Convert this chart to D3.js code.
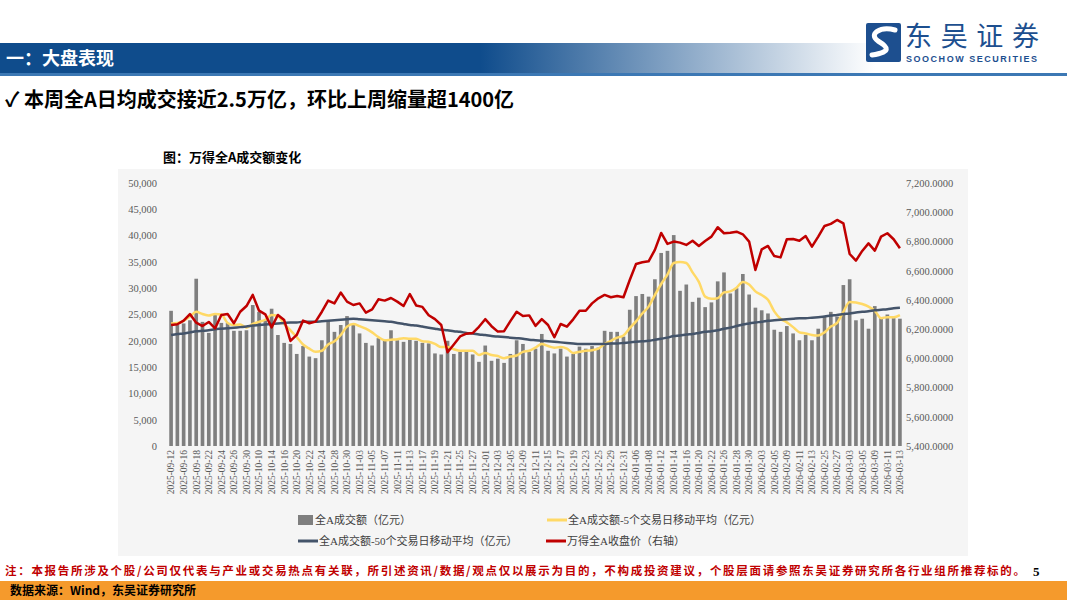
<!DOCTYPE html>
<html>
<head>
<meta charset="utf-8">
<script src="https://cdn.jsdelivr.net/npm/d3@7/dist/d3.min.js"></script>
<style>
    body { margin: 0; background: #fff; }
    svg { display: block; }
    .serif { font-family: "Liberation Serif", "Noto Sans CJK SC", serif; }
    .cjk { font-family: "Noto Sans CJK SC", sans-serif; }
</style>
</head>
<body>
<svg id="page" width="1067" height="600"></svg>
<script>
var dates = [
    "2025-09-12", "2025-09-15", "2025-09-16", "2025-09-17", "2025-09-18", "2025-09-19", "2025-09-22", "2025-09-23", "2025-09-24", "2025-09-25",
    "2025-09-26", "2025-09-29", "2025-09-30", "2025-10-09", "2025-10-10", "2025-10-13", "2025-10-14", "2025-10-15", "2025-10-16", "2025-10-17",
    "2025-10-20", "2025-10-21", "2025-10-22", "2025-10-23", "2025-10-24", "2025-10-27", "2025-10-28", "2025-10-29", "2025-10-30", "2025-10-31",
    "2025-11-03", "2025-11-04", "2025-11-05", "2025-11-06", "2025-11-07", "2025-11-10", "2025-11-11", "2025-11-12", "2025-11-13", "2025-11-14",
    "2025-11-17", "2025-11-18", "2025-11-19", "2025-11-20", "2025-11-21", "2025-11-24", "2025-11-25", "2025-11-26", "2025-11-27", "2025-11-28",
    "2025-12-01", "2025-12-02", "2025-12-03", "2025-12-04", "2025-12-05", "2025-12-08", "2025-12-09", "2025-12-10", "2025-12-11", "2025-12-12",
    "2025-12-15", "2025-12-16", "2025-12-17", "2025-12-18", "2025-12-19", "2025-12-22", "2025-12-23", "2025-12-24", "2025-12-25", "2025-12-26",
    "2025-12-29", "2025-12-30", "2025-12-31", "2026-01-05", "2026-01-06", "2026-01-07", "2026-01-08", "2026-01-09", "2026-01-12", "2026-01-13",
    "2026-01-14", "2026-01-15", "2026-01-16", "2026-01-19", "2026-01-20", "2026-01-21", "2026-01-22", "2026-01-23", "2026-01-26", "2026-01-27",
    "2026-01-28", "2026-01-29", "2026-01-30", "2026-02-02", "2026-02-03", "2026-02-04", "2026-02-05", "2026-02-06", "2026-02-09", "2026-02-10",
    "2026-02-11", "2026-02-12", "2026-02-13", "2026-02-24", "2026-02-25", "2026-02-26", "2026-02-27", "2026-03-02", "2026-03-03", "2026-03-04",
    "2026-03-05", "2026-03-06", "2026-03-09", "2026-03-10", "2026-03-11", "2026-03-12", "2026-03-13"
];

// 全A成交额（亿元）
var amount = [
    25700, 23000, 23300, 23900, 31800, 23600, 21500, 24900, 23400, 23400,
    21900, 21900, 22000, 26800, 25500, 23900, 26100, 21100, 19600, 19400,
    17500, 19000, 17000, 16700, 20100, 23800, 21700, 23000, 24700, 23000,
    21400, 19600, 19100, 20500, 20000, 22000, 20100, 19800, 20200, 20000,
    19600, 19500, 17600, 17400, 20000, 17500, 17900, 17900, 17400, 16000,
    19100, 16200, 16600, 15800, 17500, 20100, 19400, 17900, 18500, 21300,
    18100, 17600, 18500, 17000, 17500, 18900, 18500, 19000, 18700, 21900,
    21700, 21700, 20800, 25900, 28500, 28900, 28400, 31700, 36700, 37100,
    40100, 29500, 30700, 27400, 28200, 26400, 27300, 31300, 33000, 29000,
    30000, 32700, 28800, 26300, 25800, 25200, 22100, 21700, 22800, 21400,
    20100, 21100, 20100, 22300, 24600, 25500, 24600, 30600, 31700, 23900,
    24200, 22300, 26600, 24400, 25000, 24300, 24200
];

// 5个交易日移动平均（亿元）
var ma5 = [
    23300, 23400, 23800, 24600, 25500, 25100, 24800, 25100, 25000, 23400,
    23000, 23100, 22500, 23200, 23600, 24000, 24900, 24700, 23200, 22000,
    20700, 19300, 18500, 17900, 18100, 19300, 19900, 21100, 22700, 23200,
    22800, 22300, 21600, 20700, 20100, 20200, 20300, 20500, 20400, 20400,
    19900, 19800, 19400, 18800, 18800, 18400, 18100, 18100, 18100, 17300,
    17700, 17300, 17100, 16700, 17000, 17200, 17900, 18100, 18700, 19400,
    19000, 18700, 18800, 18500, 17700, 17900, 18100, 18200, 18500, 19400,
    20000, 20600, 21000, 22400, 23700, 25200, 26500, 28700, 30800, 32600,
    34800, 35000, 34800, 33000, 31200, 28400, 28000, 28100, 29200, 29400,
    30100, 31200, 30700, 29400, 28700, 27800, 25600, 24200, 23500, 22600,
    21600, 21400, 21100, 21000, 21600, 22700, 23400, 25500, 27400, 27300,
    27000, 26500, 25700, 24300, 24500, 24500, 24900
];

// 50个交易日移动平均（亿元）
var ma50 = [
    21100, 21300, 21400, 21600, 21800, 21900, 22000, 22200, 22300, 22400,
    22500, 22600, 22700, 22900, 23000, 23100, 23200, 23300, 23400, 23500,
    23500, 23600, 23600, 23600, 23700, 23800, 23900, 24000, 24100, 24200,
    24100, 24000, 23900, 23800, 23700, 23600, 23400, 23200, 23000, 22900,
    22700, 22500, 22300, 22100, 22000, 21800, 21700, 21500, 21400, 21200,
    21100, 20900, 20800, 20700, 20600, 20500, 20400, 20200, 20100, 20000,
    19900, 19800, 19700, 19600, 19500, 19400, 19400, 19400, 19400, 19400,
    19500, 19500, 19600, 19700, 19800, 19900, 20000, 20200, 20400, 20600,
    20900, 21000, 21200, 21300, 21500, 21700, 21800, 22000, 22300, 22500,
    22800, 23100, 23300, 23500, 23600, 23800, 23900, 24000, 24100, 24200,
    24300, 24300, 24400, 24500, 24600, 24800, 24900, 25100, 25200, 25400,
    25500, 25600, 25800, 25900, 26000, 26200, 26300
];

// 万得全A收盘价（右轴）
var closePrice = [
    6228, 6233, 6258, 6303, 6244, 6221, 6249, 6205, 6297, 6303,
    6240, 6319, 6358, 6434, 6326, 6301, 6212, 6297, 6262, 6119,
    6160, 6258, 6240, 6251, 6319, 6395, 6376, 6450, 6388, 6365,
    6376, 6313, 6335, 6404, 6395, 6413, 6388, 6358, 6440, 6362,
    6352, 6295, 6268, 6228, 6042, 6095, 6150, 6169, 6173, 6216,
    6268, 6220, 6183, 6186, 6255, 6319, 6290, 6294, 6222, 6268,
    6228, 6144, 6235, 6217, 6267, 6326, 6326, 6376, 6411, 6434,
    6418, 6427, 6418, 6536, 6646, 6658, 6664, 6742, 6858, 6783,
    6799, 6792, 6776, 6805, 6769, 6803, 6833, 6897, 6856, 6860,
    6867, 6849, 6799, 6605, 6746, 6769, 6700, 6691, 6815, 6817,
    6805, 6837, 6764, 6833, 6906, 6920, 6947, 6924, 6714, 6669,
    6735, 6787, 6737, 6833, 6856, 6815, 6753
];

var leftTicks = [0, 5000, 10000, 15000, 20000, 25000, 30000, 35000, 40000, 45000, 50000];
var rightTicks = [5400, 5600, 5800, 6000, 6200, 6400, 6600, 6800, 7000, 7200];

var legendNames = [
    "全A成交额（亿元）",
    "全A成交额-5个交易日移动平均（亿元）",
    "全A成交额-50个交易日移动平均（亿元）",
    "万得全A收盘价（右轴）"
];

var svg = d3.select("#page");

// ---------- page header ----------
var defs = svg.append("defs");
var grad = defs.append("linearGradient").attr("id", "band").attr("x1", "0").attr("x2", "1");
grad.append("stop").attr("offset", "0").attr("stop-color", "#0f4c8c");
grad.append("stop").attr("offset", "0.45").attr("stop-color", "#0f4c8c");
grad.append("stop").attr("offset", "0.82").attr("stop-color", "#ffffff");

svg.append("rect").attr("x", 0).attr("y", 43).attr("width", 1067).attr("height", 30).attr("fill", "url(#band)");
svg.append("rect").attr("x", 0).attr("y", 73).attr("width", 1067).attr("height", 3).attr("fill", "#3c78b4");
svg.append("text").attr("class", "cjk")
    .attr("x", 6).attr("y", 65)
    .attr("fill", "#fff").attr("font-size", 18).attr("font-weight", "bold")
    .text("一：大盘表现");

// logo
svg.append("rect").attr("x", 866).attr("y", 23).attr("width", 35).attr("height", 39).attr("rx", 2).attr("fill", "#1d4f8f");
svg.append("path")
    .attr("d", "M895,30 C880,26 868,34 878,41 C888,47 892,52 872,55")
    .attr("fill", "none").attr("stroke", "#fff").attr("stroke-width", 5).attr("stroke-linecap", "round");
svg.append("text").attr("class", "cjk")
    .attr("x", 905).attr("y", 46)
    .attr("fill", "#1d4f8f").attr("font-size", 27)
    .attr("textLength", 134)
    .text("东吴证券");
svg.append("text")
    .attr("x", 906).attr("y", 62)
    .attr("fill", "#1d4f8f").attr("font-size", 9).attr("font-weight", "bold")
    .attr("font-family", "Liberation Sans, sans-serif")
    .attr("textLength", 131)
    .text("SOOCHOW SECURITIES");

// headline
svg.append("text").attr("class", "cjk")
    .attr("x", 5).attr("y", 107)
    .attr("fill", "#000").attr("font-size", 20).attr("font-weight", "bold")
    .text("✓ 本周全A日均成交接近2.5万亿，环比上周缩量超1400亿");

// ---------- chart panel ----------
svg.append("rect").attr("x", 118).attr("y", 169).attr("width", 850).attr("height", 387).attr("fill", "#f5f5f5");
svg.append("text").attr("class", "cjk")
    .attr("x", 163).attr("y", 162)
    .attr("fill", "#000").attr("font-size", 13).attr("font-weight", "bold")
    .text("图：万得全A成交额变化");

var x = d3.scaleBand()
    .domain(dates)
    .range([168, 903])
    .paddingInner(0.42)
    .paddingOuter(0.2);

var yLeft = d3.scaleLinear().domain([0, 50000]).range([446, 183]);
var yRight = d3.scaleLinear().domain([5400, 7200]).range([446, 183]);

var chart = svg.append("g");

// left axis labels
var axisL = chart.append("g")
    .attr("transform", "translate(157,0)")
    .call(d3.axisLeft(yLeft).tickValues(leftTicks).tickFormat(d3.format(",")).tickSize(0).tickPadding(0));
axisL.select(".domain").remove();
axisL.selectAll("text").attr("class", "serif").attr("font-size", 10.5).attr("fill", "#595959");

// right axis labels
var axisR = chart.append("g")
    .attr("transform", "translate(906,0)")
    .call(d3.axisRight(yRight).tickValues(rightTicks).tickFormat(d3.format(",.4f")).tickSize(0).tickPadding(0));
axisR.select(".domain").remove();
axisR.selectAll("text").attr("class", "serif").attr("font-size", 10.5).attr("fill", "#595959");

// bars
chart.selectAll("rect.bar")
    .data(amount)
    .enter().append("rect")
    .attr("class", "bar")
    .attr("x", function (d, i) { return x(dates[i]); })
    .attr("y", function (d) { return yLeft(d); })
    .attr("width", x.bandwidth())
    .attr("height", function (d) { return yLeft(0) - yLeft(d); })
    .attr("fill", "#7f7f7f");

// x labels, every other day
var axisX = chart.append("g")
    .attr("transform", "translate(0,448)")
    .call(d3.axisBottom(x)
        .tickValues(dates.filter(function (d, i) { return i % 2 === 0; }))
        .tickSize(0).tickPadding(0));
axisX.select(".domain").remove();
axisX.selectAll("text")
    .attr("class", "serif")
    .attr("font-size", 9.5)
    .attr("fill", "#595959")
    .attr("text-anchor", "end")
    .attr("transform", "rotate(-90)")
    .attr("x", -2).attr("y", 0).attr("dy", "0.35em");

function cx(i) { return x(dates[i]) + x.bandwidth() / 2; }

var lineL = d3.line()
    .x(function (d, i) { return cx(i); })
    .y(function (d) { return yLeft(d); })
    .curve(d3.curveMonotoneX);

chart.append("path").datum(ma5)
    .attr("d", lineL)
    .attr("fill", "none").attr("stroke", "#ffd966").attr("stroke-width", 2.5);

chart.append("path").datum(ma50)
    .attr("d", lineL)
    .attr("fill", "none").attr("stroke", "#44546a").attr("stroke-width", 2.5);

chart.append("path").datum(closePrice)
    .attr("d", d3.line()
        .x(function (d, i) { return cx(i); })
        .y(function (d) { return yRight(d); }))
    .attr("fill", "none").attr("stroke", "#c00000").attr("stroke-width", 2.5)
    .attr("stroke-linejoin", "round");

// ---------- legend ----------
var legendPos = [[298, 520], [547, 520], [298, 541], [546, 541]];
var legendColors = ["#7f7f7f", "#ffd966", "#44546a", "#c00000"];
var legend = svg.append("g");
legendNames.forEach(function (name, i) {
    var p = legendPos[i];
    if (i === 0) {
        legend.append("rect").attr("x", p[0]).attr("y", p[1] - 5).attr("width", 15).attr("height", 10).attr("fill", legendColors[i]);
    } else {
        legend.append("line")
            .attr("x1", p[0]).attr("x2", p[0] + 20)
            .attr("y1", p[1]).attr("y2", p[1])
            .attr("stroke", legendColors[i]).attr("stroke-width", 3);
    }
    legend.append("text").attr("class", "serif")
        .attr("x", p[0] + (i === 0 ? 17 : 21)).attr("y", p[1]).attr("dy", "0.35em")
        .attr("font-size", 11).attr("fill", "#404040")
        .text(name);
});

// ---------- footer ----------
svg.append("text").attr("class", "cjk")
    .attr("x", 5).attr("y", 575)
    .attr("fill", "#c00000").attr("font-size", 11.5).attr("font-weight", "bold")
    .attr("textLength", 1020)
    .text("注：本报告所涉及个股/公司仅代表与产业或交易热点有关联，所引述资讯/数据/观点仅以展示为目的，不构成投资建议，个股层面请参照东吴证券研究所各行业组所推荐标的。");
svg.append("text").attr("class", "serif")
    .attr("x", 1033).attr("y", 576)
    .attr("fill", "#000").attr("font-size", 13).attr("font-weight", "bold")
    .text("5");

svg.append("rect").attr("x", 0).attr("y", 581).attr("width", 1067).attr("height", 19).attr("fill", "#f59a2c");
svg.append("text").attr("class", "cjk")
    .attr("x", 10).attr("y", 595)
    .attr("fill", "#000").attr("font-size", 12).attr("font-weight", "bold")
    .text("数据来源：Wind，东吴证券研究所");
</script>
</body>
</html>
